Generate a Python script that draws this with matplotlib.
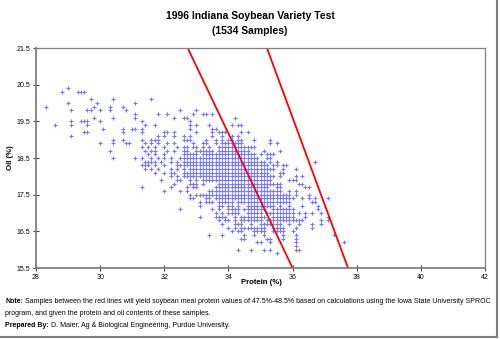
import matplotlib
matplotlib.use('Agg')
import matplotlib.pyplot as plt
from matplotlib.lines import Line2D

# oil levels (%) of the point rows, top row first
oil_levels = [20.4, 20.3, 20.2, 20.1, 20.0, 19.9, 19.8, 19.7, 19.6, 19.5,
              19.4, 19.3, 19.2, 19.1, 19.0, 18.9, 18.8, 18.7, 18.6, 18.5,
              18.4, 18.3, 18.2, 18.1, 18.0, 17.9, 17.8, 17.7, 17.6, 17.5,
              17.4, 17.3, 17.2, 17.1, 17.0, 16.9, 16.8, 16.7, 16.6, 16.5,
              16.4, 16.3, 16.2, 16.1, 16.0, 15.9]

# protein values read on each oil row, "a-b" = every 0.1 cell from a to b is filled
protein_rows = [
    "29.0",
    "28.8 29.3 29.4 29.5",
    "",
    "29.7 30.4 31.6",
    "29.0 29.9 31.1",
    "28.3 29.8 30.3 30.7",
    "29.1 29.6 29.7 30.0 30.3 30.8 32.5 33.0",
    "31.1 31.8 32.1 32.9 33.2 33.3 33.5",
    "29.8 30.4 31.1 32.3 32.6 32.7 34.2",
    "29.1 29.4 29.5 29.6 30.0 31.3 32.8",
    "28.6 29.1 29.6 31.4 31.7 32.8 33.0 33.4 34.1 34.3 34.4",
    "30.1 30.7 31.0 31.1 31.3 32.8 33.5 33.6",
    "29.5 29.6 30.7 31.3 32.0 32.1 32.3 33.0 33.5 33.7-33.9 34.4 34.6",
    "29.1 31.8 32.0 32.3 32.6 32.8 33.5 33.8 34.1 34.3",
    "30.4 30.7 31.3 31.6-31.8 32.6-32.8 33.3 33.6 33.8 34.0 34.1 34.3 34.4 34.8 35.3",
    "30.0 30.4 30.8 30.9 31.4 31.6 31.8 32.1 32.3 32.9 33.2 33.3 33.6 33.8-34.4 35.3 35.5",
    "31.3 31.5 31.7 32.0 32.4 32.6 32.7 32.9 33.0 33.2 33.4 33.7-34.8",
    "30.3 31.4 31.6 31.7 32.1 32.3 32.6 32.7 33.0-33.5 33.7-34.6 35.1 35.6",
    "31.5 31.7 32.0 32.6-33.0 33.2-34.8 35.0 35.2-35.4",
    "30.4 31.1 31.3 31.6 31.8 32.0 32.2 32.5-34.9 35.2 35.3",
    "31.4-31.7 31.9 32.2 32.4 32.6-35.1 35.3 35.5 36.7",
    "31.3-31.5 31.7 32.0 32.4-35.2 35.4 35.5 35.7 35.8",
    "31.4 31.6 31.8 32.2 32.4 32.6 32.8-35.4 35.7 36.1",
    "31.7 32.0 32.2 32.3 32.6-35.2 35.6 35.7",
    "32.2 32.4 32.6-35.4 35.6 36.1 36.3",
    "31.9 32.4 32.5 32.8 33.0 33.2-35.3 35.9-36.1",
    "32.3 32.8-33.0 33.2 33.7-35.6 36.2 36.3",
    "31.3 32.2 32.7 32.9 33.0 33.6-35.2 35.5 35.6 36.4 36.5",
    "32.0 32.5 32.7 33.4-35.6 35.9 36.1",
    "32.8 33.0-35.9 36.1 36.5",
    "32.8 32.9 33.3 33.4 33.6-36.0 36.3 36.5 36.7 37.1",
    "33.1 33.3-33.5 33.7-34.1 34.3-35.9 36.6 36.7",
    "33.1 33.7 33.8 34.0 34.1 34.3 34.6-35.4 35.6 35.9 36.3 36.8",
    "32.5 33.5 33.7 34.0-34.3 34.5-35.1 35.4-36.0 36.8",
    "33.6 33.8 34.0-34.3 34.6-35.0 35.2-36.0 36.2 36.4 36.6 36.9",
    "33.1 33.6-33.9 34.2 34.4-35.1 35.4-36.0 36.4 37.1",
    "33.7 33.9 34.0 34.2 34.4-35.0 35.2-36.3 36.9 37.1",
    "33.8 34.2-34.4 34.7 35.0-35.6 35.9 36.2 36.6 36.9",
    "34.0 34.2 34.4-35.1 35.4-35.7 36.1 36.6",
    "34.1 34.3 34.4 34.8-35.1 35.4-35.7 36.0",
    "33.4 33.8 34.5 34.8 35.1 35.7 36.1 37.3",
    "34.4 34.5 35.2 35.3 35.7 36.1",
    "34.9 35.0 35.3 36.1 37.6",
    "36.1",
    "34.3 34.7 35.1 35.3 36.1 36.2",
    "35.5",
]

# red boundary lines (protein at oil 21.5 and at oil 15.5)
line_low = [32.73, 36.0]
line_high = [35.2, 37.73]
line_oil = [21.5, 15.5]

x_ticks = [28, 30, 32, 34, 36, 38, 40, 42]
y_ticks = [15.5, 16.5, 17.5, 18.5, 19.5, 20.5, 21.5]

# build point lists from the rows
prot = []
oil = []
for o, row in zip(oil_levels, protein_rows):
    for tok in row.split():
        if '-' in tok:
            a, b = tok.split('-')
            a10 = round(float(a) * 10)
            b10 = round(float(b) * 10)
            for v in range(a10, b10 + 1):
                prot.append(v / 10)
                oil.append(o)
        else:
            prot.append(float(tok))
            oil.append(o)

plt.rcParams['font.family'] = ['Liberation Sans', 'DejaVu Sans']

fig = plt.figure(figsize=(5, 3.39), dpi=100)
ax = fig.add_axes([0.072, 0.2094, 0.898, 0.649])

ax.plot(prot, oil, linestyle='none', marker='+', ms=2.5, mew=0.8, color='#7878ff')
ax.plot(line_low, line_oil, color='#ff0000', lw=1.3)
ax.plot(line_high, line_oil, color='#ff0000', lw=1.3)

ax.set_xlim(28, 42)
ax.set_ylim(15.5, 21.5)
ax.set_xticks(x_ticks)
ax.set_yticks(y_ticks)
ax.set_yticklabels(['%.1f' % v for v in y_ticks])
ax.tick_params(direction='inout', length=4, width=0.8, color='#404040',
               labelsize=5.0, pad=2)
for s in ax.spines.values():
    s.set_color('#808080')
    s.set_linewidth(0.9)
ax.spines['left'].set_linewidth(1.3)
ax.spines['bottom'].set_linewidth(1.3)

fig.text(0.5, 0.953, '1996 Indiana Soybean Variety Test', ha='center', va='center',
         fontsize=7.5, fontweight='bold')
fig.text(0.5, 0.909, '(1534 Samples)', ha='center', va='center',
         fontsize=7.5, fontweight='bold')
fig.text(0.022, 0.534, 'Oil (%)', rotation=90, ha='center', va='center',
         fontsize=5.6, fontweight='bold')
fig.text(0.522, 0.168, 'Protein (%)', ha='center', va='center',
         fontsize=5.6, fontweight='bold')

fs = 5.0
t1 = fig.text(0.01, 0.107, 'Note:', fontsize=fs, fontweight='bold', va='baseline')
ax.annotate(' Samples between the red lines will yield soybean meal protein values of '
            '47.5%-48.5% based on calculations using the Iowa State University SPROC',
            xy=(1, 0), xycoords=t1, fontsize=fs, va='bottom', annotation_clip=False)
fig.text(0.01, 0.071, 'program, and given the protein and oil contents of these samples.',
         fontsize=fs, va='baseline')
t3 = fig.text(0.01, 0.035, 'Prepared By:', fontsize=fs, fontweight='bold', va='baseline')
ax.annotate(' D. Maier, Ag & Biological Engineering, Purdue University.',
            xy=(1, 0), xycoords=t3, fontsize=fs, va='bottom', annotation_clip=False)

# chart area border (right and bottom edges)
fig.add_artist(Line2D([0.994, 0.994], [0.006, 1.0], color='#808080', lw=1.5))
fig.add_artist(Line2D([0.0, 0.994], [0.006, 0.006], color='#808080', lw=1.5))

fig.savefig('out.png', dpi=100)
